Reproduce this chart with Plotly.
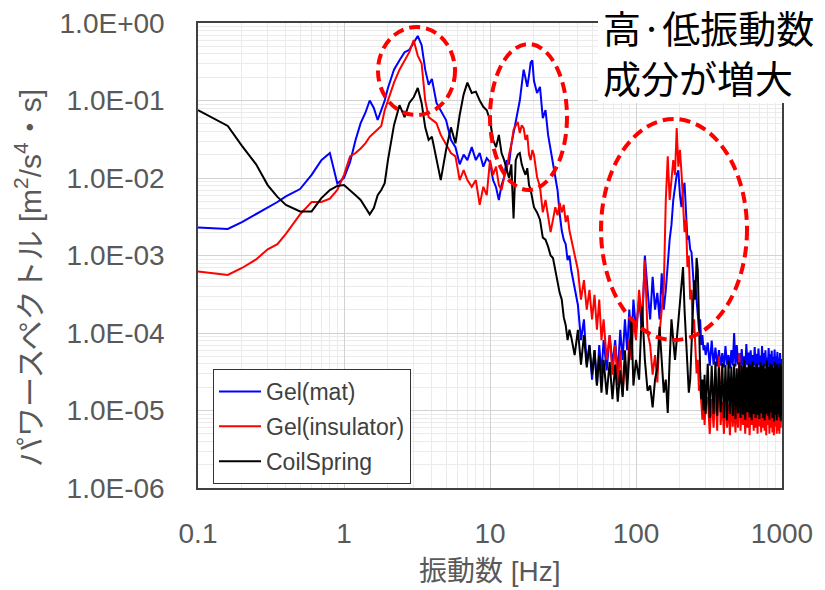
import plotly.graph_objects as go

# ---------------- data ----------------
freq_low = [0.1, 0.16, 0.2, 0.25, 0.3, 0.35, 0.4, 0.5, 0.6, 0.7, 0.8, 0.9, 1.0, 1.1, 1.2, 1.3,
            1.4, 1.5, 1.6, 1.7, 1.8, 1.9, 2.0, 2.2, 2.4, 2.6, 2.8, 3.0, 3.2, 3.4, 3.6, 3.8,
            4.0, 4.3, 4.6, 5.0, 5.4, 5.8, 6.2, 6.6, 7.0, 7.5, 8.0, 8.5, 9.0, 9.5]
freq_mid = [10, 10.5, 11, 11.5, 12, 12.5, 13, 13.5, 14, 14.5, 15, 15.5, 16, 16.5, 17, 17.5,
            18, 18.5, 19, 19.5, 20, 21, 22, 23, 24, 25, 26, 27, 28, 29, 30, 31, 32, 33, 34,
            35, 36, 38, 40, 42, 44, 46, 48, 50, 52, 54, 56, 58, 60, 63, 66, 69, 72, 75, 78,
            81, 84, 87, 90, 93, 96, 100]
freq_hi1 = [105, 110, 115, 120, 125, 130, 135, 140, 145, 150, 155, 160, 165, 170, 175, 180,
            185, 190, 195, 200, 205, 210, 215, 220, 225, 230, 235, 240, 245, 250, 255, 260,
            265, 270, 275, 280, 285, 290, 295, 300]
freq_hi2 = [310, 320, 330, 340, 350, 360, 370, 380, 390, 400, 410, 420, 430, 440, 450, 460,
            470, 480, 490, 500, 510, 520, 530, 540, 550, 560, 570, 580, 590, 600, 610, 620,
            630, 640, 650, 660, 670, 680, 690, 700, 710, 720, 730, 740, 750, 760, 770, 780,
            790, 800, 810, 820, 830, 840, 850, 860, 870, 880, 890, 900, 910, 920, 930, 940,
            950, 960, 970, 980, 990, 1000]
freq_hz = freq_low + freq_mid + freq_hi1 + freq_hi2

gel_mat = [
    # 0.1 - 9.5 Hz
    2.3e-3, 2.2e-3, 2.7e-3, 3.4e-3, 4.2e-3, 4.9e-3, 5.8e-3, 7.2e-3, 1.1e-2, 1.7e-2, 2.1e-2,
    8.5e-3, 1.0e-2, 1.6e-2, 3.1e-2, 5.1e-2, 6.9e-2, 1.0e-1, 8.0e-2, 5.6e-2, 7.5e-2, 1.0e-1,
    1.45e-1, 2.5e-1, 3.3e-1, 4.2e-1, 4.5e-1, 5.7e-1, 6.8e-1, 5.2e-1, 2.5e-1, 1.6e-1, 1.9e-1,
    9.3e-2, 7.5e-2, 5.6e-2, 3.1e-2, 2.5e-2, 1.5e-2, 2.0e-2, 1.7e-2, 2.5e-2, 1.7e-2, 2.1e-2,
    1.4e-2, 1.8e-2,
    # 10 - 38 Hz
    1.6e-2, 9.4e-3, 7.6e-3, 5.2e-3, 8.1e-3, 1.03e-2, 1.7e-2, 1.5e-2, 2.7e-2, 3.8e-2, 5.6e-2,
    7.5e-2, 1.0e-1, 1.6e-1, 2.5e-1, 1.95e-1, 1.5e-1, 2.1e-1, 3.1e-1, 3.3e-1, 1.8e-1, 1.25e-1,
    1.5e-1, 5.9e-2, 7.5e-2, 3.6e-2, 2.3e-2, 1.7e-2, 1.1e-2, 7.0e-3, 3.5e-3, 2.1e-3, 1.6e-3,
    1.4e-3, 8.7e-4, 1.0e-3, 6.5e-4, 3.9e-4,
    # 40 - 100 Hz
    2.3e-4, 8.1e-5, 1.5e-4, 3.9e-5, 7.0e-5, 2.5e-5, 6.0e-5, 2.1e-5, 7.0e-5, 2.9e-5, 8.1e-5,
    3.3e-5, 9.4e-5, 3.9e-5, 8.1e-5, 2.9e-5, 1.1e-4, 4.5e-5, 1.5e-4, 6.0e-5, 2.0e-4, 7.0e-5,
    2.7e-4, 1.1e-4,
    # 105 - 300 Hz
    2.7e-4, 1.1e-4, 1.0e-3, 3.6e-4, 1.5e-4, 5.3e-4, 2.0e-4, 3.3e-4, 1.5e-4, 5.9e-4, 2.0e-4,
    3.6e-4, 8.7e-4, 1.6e-3, 2.5e-3, 5.2e-3, 7.6e-3, 1.1e-2, 1.26e-2, 6.0e-3, 4.2e-3, 7.0e-3,
    8.7e-3, 3.3e-3, 1.6e-3, 1.8e-3, 1.2e-3, 1.1e-3, 5.6e-4, 3.6e-4, 4.2e-4, 2.7e-4, 1.8e-4,
    1.1e-4, 1.5e-4, 7.0e-5, 9.4e-5, 6.0e-5, 7.0e-5, 5.2e-5,
    # 310 - 1000 Hz
    7.5e-5, 3.8e-5, 8.0e-5, 3.9e-5, 6.5e-5, 3.7e-5, 6.0e-5, 3.8e-5, 5.5e-5, 3.6e-5,
    6.8e-5, 3.9e-5, 5.2e-5, 3.5e-5, 6.0e-5, 3.8e-5, 1.0e-4, 3.7e-5, 7.0e-5, 3.9e-5,
    5.5e-5, 3.6e-5, 6.2e-5, 3.8e-5, 5.0e-5, 3.5e-5, 7.2e-5, 3.9e-5, 5.6e-5, 3.7e-5,
    6.0e-5, 3.6e-5, 5.2e-5, 3.8e-5, 6.6e-5, 3.7e-5, 5.4e-5, 3.5e-5, 6.3e-5, 3.9e-5,
    5.1e-5, 3.6e-5, 6.8e-5, 3.8e-5, 5.5e-5, 3.7e-5, 6.0e-5, 3.5e-5, 4.8e-5, 3.8e-5,
    6.4e-5, 3.6e-5, 5.3e-5, 3.7e-5, 5.9e-5, 3.5e-5, 4.9e-5, 3.8e-5, 6.1e-5, 3.6e-5,
    5.0e-5, 3.7e-5, 5.7e-5, 3.5e-5, 4.7e-5, 3.6e-5, 5.5e-5, 3.4e-5, 4.6e-5, 3.5e-5,
]

gel_insulator = [
    # 0.1 - 9.5 Hz
    6.2e-4, 5.6e-4, 6.9e-4, 8.9e-4, 1.2e-3, 1.4e-3, 1.9e-3, 3.4e-3, 4.9e-3, 4.9e-3, 5.4e-3,
    7.0e-3, 1.1e-2, 1.9e-2, 2.1e-2, 2.4e-2, 2.8e-2, 3.4e-2, 3.8e-2, 4.2e-2, 4.7e-2, 7.5e-2,
    1.0e-1, 1.7e-1, 2.5e-1, 3.3e-1, 4.2e-1, 6.0e-1, 3.8e-1, 3.0e-1, 1.0e-1, 6.1e-2, 5.6e-2,
    5.1e-2, 3.6e-2, 2.7e-2, 2.1e-2, 1.9e-2, 9.4e-3, 1.26e-2, 9.4e-3, 7.7e-3, 9.4e-3, 4.5e-3,
    7.7e-3, 6.0e-3,
    # 10 - 38 Hz
    1.7e-2, 1.1e-2, 1.4e-2, 8.1e-3, 7.0e-3, 1.03e-2, 1.26e-2, 2.0e-2, 2.7e-2, 4.2e-2, 4.8e-2,
    5.3e-2, 3.8e-2, 4.8e-2, 4.4e-2, 3.1e-2, 3.6e-2, 2.0e-2, 1.7e-2, 2.3e-2, 2.0e-2, 1.03e-2,
    7.7e-3, 3.6e-3, 5.2e-3, 3.1e-3, 2.0e-3, 2.9e-3, 4.2e-3, 3.3e-3, 4.8e-3, 3.6e-3, 4.5e-3,
    2.7e-3, 3.3e-3, 2.1e-3, 1.6e-3, 1.0e-3,
    # 40 - 100 Hz
    6.5e-4, 2.7e-4, 4.8e-4, 2.0e-4, 3.6e-4, 1.5e-4, 3.1e-4, 1.1e-4, 2.7e-4, 8.1e-5, 1.5e-4,
    4.5e-5, 9.4e-5, 2.9e-5, 7.0e-5, 2.1e-5, 6.0e-5, 1.6e-5, 4.5e-5, 2.5e-5, 8.1e-5, 4.5e-5,
    1.5e-4, 8.1e-5,
    # 105 - 300 Hz
    3.6e-4, 1.5e-4, 8.7e-4, 1.0e-4, 7.0e-5, 2.9e-5, 5.2e-5, 2.3e-5, 1.0e-4, 2.0e-4, 3.9e-4,
    5.2e-3, 1.9e-2, 5.2e-3, 8.6e-3, 1.7e-2, 1.1e-2, 4.4e-2, 1.4e-2, 2.3e-2, 1.16e-2, 5.2e-3,
    2.0e-3, 2.9e-3, 7.1e-4, 1.0e-3, 2.7e-4, 3.6e-4, 1.0e-4, 1.5e-4, 5.2e-5, 3.0e-5, 4.5e-5,
    1.8e-5, 2.1e-5, 1.4e-5, 7.6e-6, 1.6e-5, 6.5e-6, 1.2e-5,
    # 310 - 1000 Hz
    1.5e-5, 5.0e-6, 1.4e-5, 6.0e-6, 2.0e-5, 5.5e-6, 5.0e-5, 6.5e-6, 1.3e-5, 5.0e-6,
    1.6e-5, 6.0e-6, 1.2e-5, 4.8e-6, 1.5e-5, 6.2e-6, 1.3e-5, 5.2e-6, 1.4e-5, 6.0e-6,
    5.5e-5, 5.5e-6, 1.5e-5, 6.5e-6, 1.2e-5, 5.0e-6, 1.6e-5, 6.0e-6, 1.3e-5, 4.8e-6,
    1.4e-5, 6.5e-6, 1.2e-5, 5.5e-6, 1.5e-5, 6.0e-6, 1.3e-5, 5.0e-6, 2.8e-5, 6.2e-6,
    1.4e-5, 5.2e-6, 1.2e-5, 6.0e-6, 1.6e-5, 5.5e-6, 1.3e-5, 4.8e-6, 1.5e-5, 6.5e-6,
    1.2e-5, 5.0e-6, 1.4e-5, 6.0e-6, 1.3e-5, 5.2e-6, 1.5e-5, 4.8e-6, 1.2e-5, 6.2e-6,
    1.4e-5, 5.0e-6, 1.3e-5, 5.5e-6, 1.5e-5, 5.0e-6, 1.2e-5, 6.0e-6, 1.3e-5, 7.0e-6,
]

coil_spring = [
    # 0.1 - 9.5 Hz
    7.5e-2, 4.7e-2, 2.6e-2, 1.5e-2, 8.1e-3, 5.7e-3, 4.5e-3, 3.7e-3, 3.7e-3, 5.5e-3, 7.0e-3,
    7.9e-3, 8.1e-3, 7.0e-3, 6.0e-3, 5.2e-3, 4.2e-3, 3.4e-3, 4.1e-3, 6.0e-3, 7.0e-3, 8.6e-3,
    1.7e-2, 4.8e-2, 8.7e-2, 6.1e-2, 9.3e-2, 1.1e-1, 1.45e-1, 9.3e-2, 4.5e-2, 3.1e-2, 3.4e-2,
    1.7e-2, 9.4e-3, 2.3e-2, 4.5e-2, 2.8e-2, 6.5e-2, 1.2e-1, 1.7e-1, 1.25e-1, 1.3e-1, 1.0e-1,
    8.3e-2, 7.5e-2,
    # 10 - 38 Hz
    5.6e-2, 3.1e-2, 2.5e-2, 3.6e-2, 2.1e-2, 1.7e-2, 1.26e-2, 1.0e-2, 1.5e-2, 3.0e-3, 1.7e-2,
    2.0e-2, 2.1e-2, 1.5e-2, 1.26e-2, 1.1e-2, 1.34e-2, 8.1e-3, 7.0e-3, 5.2e-3, 4.2e-3, 3.6e-3,
    2.9e-3, 1.7e-3, 1.6e-3, 1.3e-3, 1.0e-3, 9.3e-4, 6.5e-4, 4.8e-4, 3.3e-4, 2.7e-4, 1.6e-4,
    1.26e-4, 8.1e-5, 1.1e-4, 8.9e-5, 5.2e-5,
    # 40 - 100 Hz
    1.1e-4, 3.9e-5, 9.4e-5, 3.6e-5, 7.0e-5, 2.9e-5, 6.0e-5, 2.1e-5, 5.2e-5, 1.7e-5, 4.5e-5,
    1.6e-5, 4.2e-5, 1.4e-5, 3.9e-5, 1.3e-5, 3.3e-5, 1.5e-5, 6.0e-5, 1.8e-5, 5.2e-5, 1.5e-4,
    2.1e-5, 4.5e-5,
    # 105 - 300 Hz
    2.5e-5, 2.2e-4, 4.5e-5, 1.8e-5, 2.1e-5, 1.1e-5, 2.5e-5, 3.6e-5, 1.2e-4, 4.5e-5, 1.7e-5,
    2.5e-5, 9.3e-6, 4.5e-5, 1.5e-4, 8.1e-5, 4.5e-5, 8.1e-5, 1.5e-4, 2.7e-4, 4.8e-4, 7.1e-4,
    2.0e-4, 8.1e-5, 4.5e-5, 1.7e-5, 2.5e-5, 8.1e-5, 2.7e-4, 4.8e-4, 2.7e-4, 9.3e-4, 6.5e-4,
    1.1e-4, 3.3e-5, 1.4e-5, 2.5e-5, 1.0e-5, 2.9e-5, 9.0e-6,
    # 310 - 1000 Hz
    4.0e-5, 8.0e-6, 3.8e-5, 9.0e-6, 4.3e-5, 8.5e-6, 3.6e-5, 9.5e-6, 4.1e-5, 8.0e-6,
    3.9e-5, 7.5e-6, 4.4e-5, 9.0e-6, 3.7e-5, 8.5e-6, 4.0e-5, 7.8e-6, 3.5e-5, 9.2e-6,
    4.2e-5, 8.0e-6, 3.8e-5, 8.8e-6, 4.5e-5, 7.6e-6, 3.6e-5, 9.5e-6, 4.0e-5, 8.2e-6,
    3.9e-5, 7.5e-6, 4.3e-5, 9.0e-6, 3.7e-5, 8.0e-6, 4.1e-5, 8.8e-6, 3.6e-5, 7.8e-6,
    4.2e-5, 9.2e-6, 3.8e-5, 8.0e-6, 4.0e-5, 7.5e-6, 3.5e-5, 9.0e-6, 4.4e-5, 8.5e-6,
    3.7e-5, 7.6e-6, 4.1e-5, 9.5e-6, 3.9e-5, 8.0e-6, 3.6e-5, 7.2e-6, 4.2e-5, 8.8e-6,
    3.8e-5, 7.5e-6, 4.0e-5, 9.0e-6, 3.6e-5, 8.2e-6, 4.1e-5, 7.4e-6, 3.7e-5, 8.6e-6,
]

series_names = ["Gel(mat)", "Gel(insulator)", "CoilSpring"]

x_tickvals = [0.1, 1, 10, 100, 1000]
x_ticktext = ["0.1", "1", "10", "100", "1000"]
y_tickvals = [1e-6, 1e-5, 1e-4, 1e-3, 1e-2, 1e-1, 1e0]
y_ticktext = ["1.0E-06", "1.0E-05", "1.0E-04", "1.0E-03", "1.0E-02", "1.0E-01", "1.0E+00"]

x_minor = [k * 10.0 ** e for e in range(-1, 3) for k in range(2, 10)]
y_minor = [k * 10.0 ** e for e in range(-6, 0) for k in range(2, 10)]

note_lines = ["高·低振動数", "成分が増大"]

# ---------------- figure ----------------
W, H = 825, 590
L, R, T, B = 198, 782, 23, 488   # plot area in pixels


def px(x):
    return (x - L) / (R - L)


def py(y):
    return (B - y) / (B - T)


colors = ["#0000ff", "#ff0000", "#000000"]
fig = go.Figure()
for name, vals, col in zip(series_names, [gel_mat, gel_insulator, coil_spring], colors):
    fig.add_trace(go.Scatter(x=freq_hz, y=vals, mode="lines", name=name, legendgroup=name,
                             line=dict(color=col, width=2)))

tick_font = dict(family="Liberation Sans, Arial, sans-serif", size=28, color="#595959")
fig.update_xaxes(type="log", range=[-1, 3], tickmode="array", tickvals=x_tickvals,
                 ticktext=x_ticktext, tickfont=tick_font, ticks="", ticklabelstandoff=20,
                 showgrid=True, gridcolor="#d2d2d2", gridwidth=1, zeroline=False,
                 showline=True, linecolor="#404040", linewidth=1.5, mirror=True,
                 minor=dict(tickmode="array", tickvals=x_minor, showgrid=True,
                            gridcolor="#ebebeb", gridwidth=1, ticks=""))
fig.update_yaxes(type="log", range=[-6, 0], tickmode="array", tickvals=y_tickvals,
                 ticktext=y_ticktext, tickfont=tick_font, ticks="", ticklabelstandoff=26,
                 showgrid=True, gridcolor="#d2d2d2", gridwidth=1, zeroline=False,
                 showline=True, linecolor="#404040", linewidth=1.5, mirror=True,
                 minor=dict(tickmode="array", tickvals=y_minor, showgrid=True,
                            gridcolor="#ebebeb", gridwidth=1, ticks=""))

shapes = [
    dict(type="rect", xref="paper", yref="paper", x0=px(598), x1=px(830), y0=py(103), y1=py(-5),
         fillcolor="white", line=dict(width=0), layer="above"),
]
for (x0, x1, y0, y1) in [(378, 455, 27, 115), (490, 567, 44, 190), (601, 747, 119, 340)]:
    shapes.append(dict(type="circle", xref="paper", yref="paper", x0=px(x0), x1=px(x1),
                       y0=py(y1), y1=py(y0), layer="above",
                       line=dict(color="#ff0000", width=4, dash="11px,6px")))

cjk = "Liberation Sans, Noto Sans CJK JP, sans-serif"
annotations = [
    dict(text="パワースペクトル [m<sup>2</sup>/s<sup>4</sup>・s]", xref="paper", yref="paper",
         x=px(28), y=py(278), xanchor="center", yanchor="middle", textangle=-90,
         showarrow=False, font=dict(family=cjk, size=30, color="#595959")),
    dict(text="振動数 [Hz]", xref="paper", yref="paper", x=px(490), y=py(571),
         xanchor="center", yanchor="middle", showarrow=False,
         font=dict(family=cjk, size=28, color="#595959")),
]
for line_text, yc in zip(note_lines, [26, 76]):
    annotations.append(dict(text=line_text, xref="paper", yref="paper", x=px(601), y=py(yc),
                            xanchor="left", yanchor="middle", align="left", showarrow=False,
                            font=dict(family="Noto Sans CJK JP, sans-serif", size=38,
                                      color="#000000")))

fig.update_layout(
    width=W, height=H,
    margin=dict(l=L, r=W - R, t=T, b=H - B, autoexpand=False),
    paper_bgcolor="white", plot_bgcolor="white",
    showlegend=True,
    legend=dict(x=px(213), y=py(369), xanchor="left", yanchor="top", bgcolor="white",
                bordercolor="#333333", borderwidth=1, traceorder="grouped", tracegroupgap=2,
                itemwidth=42,
                font=dict(family="Liberation Sans, Arial, sans-serif", size=23, color="#404040")),
    shapes=shapes,
    annotations=annotations,
)

fig.write_html("out.html")
